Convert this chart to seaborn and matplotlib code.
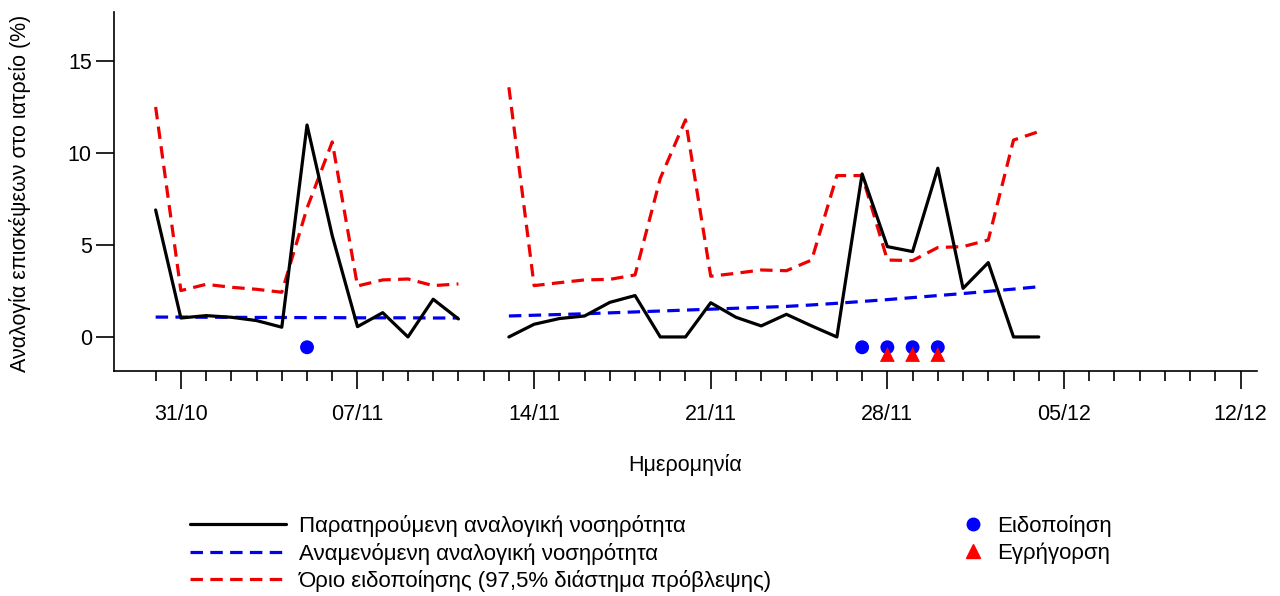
import numpy as np
import pandas as pd
import matplotlib
matplotlib.use('Agg')
import matplotlib.pyplot as plt
import matplotlib.dates as mdates
from matplotlib.lines import Line2D
import seaborn as sns

# daily values, 30/10 - 04/12 (12/11 missing)
dates = pd.date_range('2016-10-30', '2016-12-04', freq='D')
observed = [6.9, 1.03, 1.16, 1.07, 0.89, 0.53, 11.52, 5.5, 0.56, 1.32, 0.0, 2.05, 0.98,
            np.nan,
            0.0, 0.69, 1.0, 1.14, 1.88, 2.25, 0.0, 0.0, 1.86, 1.07, 0.6, 1.23, 0.6, 0.0,
            8.86, 4.91, 4.64, 9.17, 2.64, 4.04, 0.0, 0.0]
expected = [1.08, 1.08, 1.07, 1.07, 1.06, 1.06, 1.05, 1.05, 1.04, 1.04, 1.04, 1.03, 1.03,
            np.nan,
            1.14, 1.18, 1.22, 1.26, 1.31, 1.36, 1.41, 1.46, 1.51, 1.56, 1.61, 1.66, 1.74, 1.83,
            1.93, 2.03, 2.14, 2.25, 2.36, 2.48, 2.60, 2.73]
threshold = [12.5, 2.52, 2.86, 2.7, 2.59, 2.43, 7.0, 10.6, 2.77, 3.1, 3.15, 2.79, 2.88,
             np.nan,
             13.57, 2.79, 2.95, 3.1, 3.13, 3.37, 8.62, 11.8, 3.3, 3.46, 3.64, 3.6, 4.18, 8.77,
             8.77, 4.18, 4.15, 4.86, 4.91, 5.27, 10.7, 11.16]

alarm_dates = pd.to_datetime(['2016-11-05', '2016-11-27', '2016-11-28', '2016-11-29', '2016-11-30'])
alert_dates = pd.to_datetime(['2016-11-28', '2016-11-29', '2016-11-30'])

labels = ['Παρατηρούμενη αναλογική νοσηρότητα',
          'Αναμενόμενη αναλογική νοσηρότητα',
          'Όριο ειδοποίησης (97,5% διάστημα πρόβλεψης)']
marker_labels = ['Ειδοποίηση', 'Εγρήγορση']

df = pd.DataFrame({'date': dates, 'observed': observed,
                   'expected': expected, 'threshold': threshold})
df['segment'] = df['observed'].isna().cumsum()
df = df.dropna()

sns.set_style('white')
plt.rcParams['font.family'] = ['Liberation Sans', 'DejaVu Sans']
plt.rcParams['text.color'] = 'black'
plt.rcParams['xtick.color'] = 'black'
plt.rcParams['ytick.color'] = 'black'
fs = 15.5

fig = plt.figure(figsize=(12.8, 5.96), dpi=100)
ax = fig.add_axes([114 / 1280, 1 - 371 / 596, (1257 - 114) / 1280, (371 - 12) / 596])

lw = 2.3
dash = (0, (3.9, 2.3))
sns.lineplot(data=df, x='date', y='expected', units='segment', estimator=None,
             color='#0000ee', lw=lw, linestyle=dash, ax=ax)
sns.lineplot(data=df, x='date', y='threshold', units='segment', estimator=None,
             color='#ee0000', lw=lw, linestyle=dash, ax=ax)
sns.lineplot(data=df, x='date', y='observed', units='segment', estimator=None,
             color='black', lw=lw, ax=ax)

sns.scatterplot(x=alarm_dates, y=[-0.56] * len(alarm_dates), color='#0000ff',
                marker='o', s=100, edgecolor='none', ax=ax, zorder=5)
sns.scatterplot(x=alert_dates, y=[-0.95] * len(alert_dates), color='#ff0000',
                marker='^', s=115, edgecolor='none', ax=ax, zorder=6)

x0 = mdates.date2num(pd.Timestamp('2016-10-31'))
ax.set_xlim(x0 - 2.65, x0 + 42.65)
ax.set_ylim(-1.85, 17.66)
ax.set_yticks([0, 5, 10, 15])
ax.set_xticks(pd.date_range('2016-10-31', '2016-12-12', freq='7D'))
ax.set_xticks(pd.date_range('2016-10-30', '2016-12-12', freq='D'), minor=True)
ax.xaxis.set_major_formatter(mdates.DateFormatter('%d/%m'))
ax.tick_params(axis='x', which='major', length=13, width=1.2, pad=11, direction='out',
               bottom=True, labelsize=fs)
ax.tick_params(axis='x', which='minor', length=7, width=1.2, direction='out', bottom=True)
ax.tick_params(axis='y', length=13, width=1.2, pad=3, direction='out', left=True, labelsize=fs)
for side in ['top', 'right']:
    ax.spines[side].set_visible(False)
for side in ['left', 'bottom']:
    ax.spines[side].set_color('black')
    ax.spines[side].set_linewidth(1.2)
ax.set_xlabel('')
ax.set_ylabel('')

fig.text(685 / 1280, 1 - 465 / 596, 'Ημερομηνία', ha='center', va='center', fontsize=fs)
fig.text(20 / 1280, 1 - 193 / 596, 'Αναλογία επισκέψεων στο ιατρείο (%)', rotation=90,
         ha='center', va='center', fontsize=fs)

line_handles = [Line2D([], [], color='black', lw=lw),
                Line2D([], [], color='#0000ee', lw=lw, linestyle=dash),
                Line2D([], [], color='#ee0000', lw=lw, linestyle=dash)]
fig.legend(line_handles, labels, loc='upper left', bbox_to_anchor=(190 / 1280, 1 - 515 / 596),
           frameon=False, fontsize=16, handlelength=4.3, handletextpad=0.6,
           labelspacing=0.25, borderaxespad=0, borderpad=0)
marker_handles = [Line2D([], [], color='#0000ff', marker='o', ls='none', markersize=9),
                  Line2D([], [], color='#ff0000', marker='^', ls='none', markersize=10)]
fig.legend(marker_handles, marker_labels, loc='upper left',
           bbox_to_anchor=(960 / 1280, 1 - 515 / 596), frameon=False, fontsize=16,
           handlelength=1.2, handletextpad=0.45, labelspacing=0.25,
           borderaxespad=0, borderpad=0)

fig.savefig('out.png', dpi=100)
